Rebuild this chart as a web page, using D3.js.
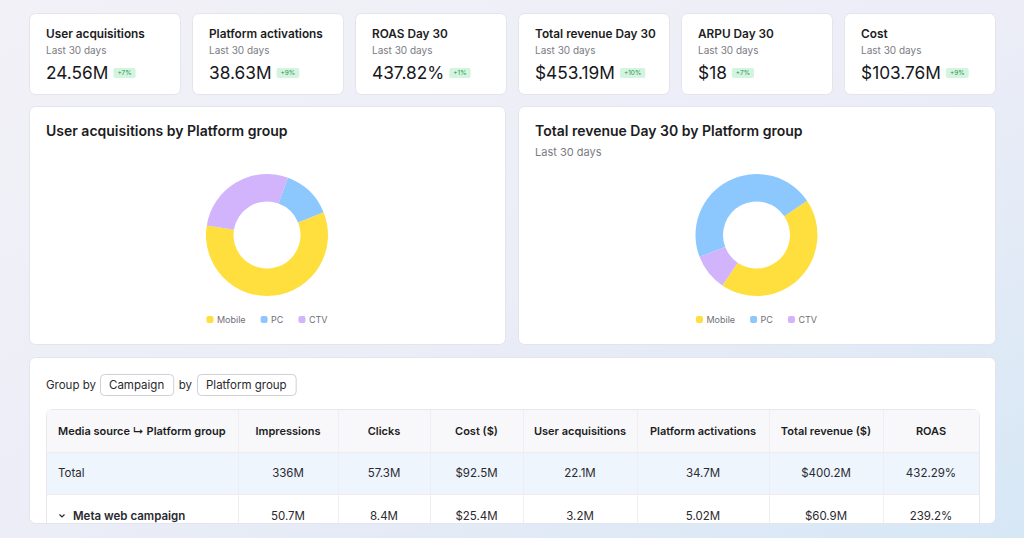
<!DOCTYPE html>
<html>
<head>
<meta charset="utf-8">
<script src="https://cdn.jsdelivr.net/npm/d3@7"></script>
<style>
  html, body { margin: 0; padding: 0; }
  body { width: 1024px; height: 538px; overflow: hidden; font-family: Inter, "Noto Sans", sans-serif; }
  svg { display: block; }
</style>
</head>
<body>
<div id="dash"></div>
<script>
// KPI cards
var kpiTitles = ["User acquisitions", "Platform activations", "ROAS Day 30", "Total revenue Day 30", "ARPU Day 30", "Cost"];
var kpiValues = ["24.56M", "38.63M", "437.82%", "$453.19M", "$18", "$103.76M"];
var kpiChanges = ["+7%", "+9%", "+1%", "+10%", "+7%", "+9%"];

// Donut data (by platform group)
var platforms = ["Mobile", "PC", "CTV"];
var userAcqByPlatform = [14.39, 3.27, 6.90];    // millions
var revenueByPlatform = [199.0, 210.2, 44.0];   // $ millions

// Table
var tableHeaders = ["Media source \u21b3 Platform group", "Impressions", "Clicks", "Cost ($)", "User acquisitions", "Platform activations", "Total revenue ($)", "ROAS"];
var totalRow = ["Total", "336M", "57.3M", "$92.5M", "22.1M", "34.7M", "$400.2M", "432.29%"];
var metaRow = ["Meta web campaign", "50.7M", "8.4M", "$25.4M", "3.2M", "5.02M", "$60.9M", "239.2%"];

(function() {
  var W = 1024, H = 538;
  var svg = d3.select("#dash").append("svg")
    .attr("width", W).attr("height", H);

  var defs = svg.append("defs");
  var bg = defs.append("linearGradient").attr("id", "bg")
    .attr("x1", "0").attr("y1", "0").attr("x2", "1").attr("y2", "1");
  bg.append("stop").attr("offset", "0%").attr("stop-color", "#f2f1f7");
  bg.append("stop").attr("offset", "50%").attr("stop-color", "#ecedf7");
  bg.append("stop").attr("offset", "100%").attr("stop-color", "#d6e7f5");

  svg.append("rect").attr("width", W).attr("height", H).attr("fill", "url(#bg)");

  function panel(x, y, w, h) {
    return svg.append("rect")
      .attr("x", x).attr("y", y).attr("width", w).attr("height", h)
      .attr("rx", 6).attr("fill", "#fff")
      .attr("stroke", "#e4e4ec").attr("stroke-width", 1);
  }

  // ---- KPI cards ----
  var cardX = d3.scaleBand().domain(d3.range(kpiTitles.length))
    .range([29, 995]).paddingInner(0.074);

  kpiTitles.forEach(function(t, i) {
    var x0 = cardX(i);
    panel(x0 + 0.5, 13.5, cardX.bandwidth(), 81);
    var g = svg.append("g").attr("transform", "translate(" + (x0 + 17) + ",0)");
    g.append("text").attr("y", 37.5).attr("font-size", 11.8).attr("font-weight", 600)
      .attr("fill", "#1c1c22").text(t);
    g.append("text").attr("y", 53.5).attr("font-size", 10).attr("fill", "#7b7b83")
      .text("Last 30 days");
    var v = g.append("text").attr("y", 79).attr("font-size", 17.3).attr("fill", "#17171c")
      .text(kpiValues[i]);
    var vw = v.node().getComputedTextLength();
    var badge = g.append("g").attr("transform", "translate(" + (vw + 5) + ",68)");
    var bt = badge.append("text").attr("x", 4).attr("y", 7.3).attr("font-size", 6.5)
      .attr("fill", "#2f9254").text(kpiChanges[i]);
    var bw = bt.node().getComputedTextLength() + 8;
    badge.insert("rect", "text").attr("width", bw).attr("height", 10).attr("rx", 2)
      .attr("fill", "#d3f4de");
  });

  // ---- donut panels ----
  var colors = d3.scaleOrdinal().domain(platforms).range(["#ffdf3d", "#8cc7fd", "#d1b4fc"]);

  function donut(px, pw, title, sub, values, startDeg) {
    panel(px + 0.5, 106.5, pw, 238);
    svg.append("text").attr("x", px + 17).attr("y", 136).attr("font-size", 14)
      .attr("font-weight", 600).attr("fill", "#1c1c22").text(title);
    if (sub) {
      svg.append("text").attr("x", px + 17).attr("y", 156).attr("font-size", 11)
        .attr("fill", "#7b7b83").text(sub);
    }
    var cx = px + pw / 2, cy = 235;
    var start = startDeg * Math.PI / 180;
    var pie = d3.pie().sort(null).sortValues(function(a, b) { return b - a; })
      .startAngle(start).endAngle(start + 2 * Math.PI);
    var arc = d3.arc().innerRadius(33.5).outerRadius(61);
    var arcs = pie(values);
    svg.append("g").attr("transform", "translate(" + cx + "," + cy + ")")
      .selectAll("path").data(arcs).enter().append("path")
      .attr("d", arc)
      .attr("fill", function(d, i) { return colors(platforms[i]); });

    // legend
    var lg = svg.append("g");
    var xpos = 0;
    platforms.forEach(function(p) {
      var it = lg.append("g").attr("transform", "translate(" + xpos + ",0)");
      it.append("rect").attr("x", 0).attr("y", -3.5).attr("width", 7).attr("height", 7)
        .attr("rx", 2).attr("fill", colors(p));
      var t = it.append("text").attr("x", 10.5).attr("y", 3.3).attr("font-size", 9)
        .attr("fill", "#6f6f77").text(p);
      xpos += 10.5 + t.node().getComputedTextLength() + 15;
    });
    var lw = xpos - 15;
    lg.attr("transform", "translate(" + (cx - lw / 2) + ",319.5)");
  }

  donut(29, 476, "User acquisitions by Platform group", null, userAcqByPlatform, 68);
  donut(518, 477, "Total revenue Day 30 by Platform group", "Last 30 days", revenueByPlatform, 249);

  // ---- table panel ----
  var clipId = "tclip";
  defs.append("clipPath").attr("id", clipId).append("rect")
    .attr("x", 29).attr("y", 357).attr("width", 967).attr("height", 166).attr("rx", 6);
  panel(29.5, 357.5, 966, 166);
  var tp = svg.append("g").attr("clip-path", "url(#" + clipId + ")");

  tp.append("text").attr("x", 46).attr("y", 388.5).attr("font-size", 11.5)
    .attr("fill", "#2a2a30").text("Group by");
  function button(x, label) {
    var t = tp.append("text").attr("x", x + 9).attr("y", 388.5).attr("font-size", 11.5)
      .attr("fill", "#2a2a30").text(label);
    var w = t.node().getComputedTextLength() + 18;
    tp.insert("rect", "text").attr("x", x + 0.5).attr("y", 374.5).attr("width", w)
      .attr("height", 21).attr("rx", 4).attr("fill", "#fff").attr("stroke", "#cfcfd6");
    return x + w;
  }
  var bx = button(100, "Campaign");
  tp.append("text").attr("x", bx + 5.5).attr("y", 388.5).attr("font-size", 11.5)
    .attr("fill", "#2a2a30").text("by");
  button(197, "Platform group");

  // columns
  var colWidths = [192, 100, 92, 93, 114, 132, 114, 96];
  var colEdges = [46];
  colWidths.forEach(function(w, i) { colEdges.push(colEdges[i] + w); });
  var tableTop = 409, rowH = [43, 42, 44];
  var rowTops = [tableTop, tableTop + rowH[0], tableTop + rowH[0] + rowH[1]];
  var rowFill = ["#f8f8fa", "#eef5fd", "#ffffff"];
  var rows = [tableHeaders, totalRow, metaRow];

  var tg = tp.append("g");
  tg.append("rect").attr("x", 46.5).attr("y", tableTop + 0.5)
    .attr("width", colEdges[8] - 46).attr("height", 140).attr("rx", 6)
    .attr("fill", "#fff").attr("stroke", "#e7e7ec");

  rows.forEach(function(r, ri) {
    tg.append("rect").attr("x", 47).attr("y", rowTops[ri] + (ri === 0 ? 1 : 0))
      .attr("width", colEdges[8] - 47).attr("height", rowH[ri] - (ri === 0 ? 1 : 0))
      .attr("fill", rowFill[ri]);
    if (ri > 0) {
      tg.append("line").attr("x1", 47).attr("x2", colEdges[8])
        .attr("y1", rowTops[ri] + 0.5).attr("y2", rowTops[ri] + 0.5)
        .attr("stroke", "#ececf1");
    }
  });
  colEdges.slice(1, 8).forEach(function(x) {
    tg.append("line").attr("x1", x + 0.5).attr("x2", x + 0.5)
      .attr("y1", tableTop + 1).attr("y2", 540).attr("stroke", "#efeff3");
  });

  rows.forEach(function(r, ri) {
    var cy = rowTops[ri] + rowH[ri] / 2 + 4;
    r.forEach(function(cell, ci) {
      var header = ri === 0;
      var t = tg.append("text").attr("y", cy)
        .attr("font-size", header ? 11 : 11.5)
        .attr("font-weight", header || (ri === 2 && ci === 0) ? 600 : 400)
        .attr("fill", header ? "#1c1c22" : "#2a2a30")
        .text(cell);
      if (ci === 0) {
        t.attr("x", ri === 2 ? 73 : 58);
        if (ri === 2) {
          tg.append("path").attr("d", "M59.5,514.5 L62,517 L64.5,514.5")
            .attr("fill", "none").attr("stroke", "#2a2a30").attr("stroke-width", 1.2);
        }
      } else {
        t.attr("x", (colEdges[ci] + colEdges[ci + 1]) / 2).attr("text-anchor", "middle");
      }
    });
  });
})();
</script>
</body>
</html>
